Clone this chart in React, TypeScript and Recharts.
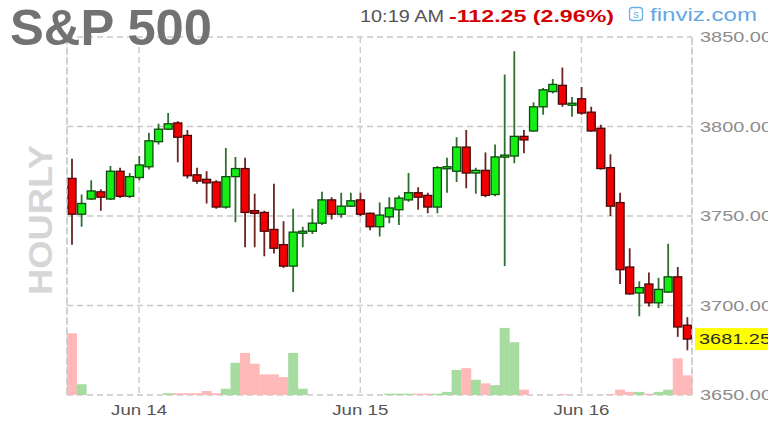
import React from 'react'
import {
  ComposedChart,
  Bar,
  Cell,
  XAxis,
  YAxis,
  CartesianGrid,
  ReferenceLine,
} from 'recharts'

// hourly S&P 500 futures, Jun 13 evening -> Jun 16 10:00
const OPEN = [
  3771, 3751, 3759.5, 3763.5, 3759.5, 3775, 3761, 3771.5, 3777.5, 3791.5,
  3798.5, 3802, 3795, 3773, 3770.5, 3769, 3755, 3772, 3776.5, 3753,
  3752, 3742.5, 3734, 3722, 3740.5, 3741.5, 3746, 3759, 3751, 3755.5,
  3759, 3751.5, 3744, 3749.5, 3753.5, 3759, 3763, 3761.5, 3755, 3776.5,
  3775, 3788.5, 3774, 3775.5, 3762, 3783, 3783.5, 3794.5, 3797.5, 3811,
  3819.5, 3823, 3812, 3815.5, 3808, 3799, 3777, 3757.5, 3721.5, 3707,
  3712, 3701.5, 3707.5, 3716, 3689,
]
const HIGH = [
  3782, 3762, 3770, 3765, 3778, 3777, 3774, 3783.5, 3796.5, 3801.5,
  3807.5, 3803, 3798, 3777, 3775, 3770, 3788, 3783, 3782.5, 3762.5,
  3753, 3768, 3747, 3754, 3744, 3754, 3763.5, 3760.5, 3763, 3763,
  3763, 3752, 3757.5, 3760.5, 3761.5, 3774, 3766, 3763, 3778, 3782.5,
  3794, 3798, 3777, 3785.5, 3790, 3829, 3842, 3798, 3813.5, 3821.5,
  3826.5, 3833, 3816.5, 3822, 3811, 3801, 3784.5, 3763, 3732, 3713.5,
  3718.5, 3715.5, 3734.5, 3721.5, 3693.5,
]
const LOW = [
  3734, 3744, 3759, 3753, 3759, 3760, 3760, 3770, 3776, 3790,
  3798, 3780, 3771, 3768, 3757, 3754, 3754, 3746.5, 3732.5, 3732.5,
  3727.5, 3729, 3721, 3707.5, 3732.5, 3740, 3745, 3748, 3749, 3755,
  3750, 3742, 3738.5, 3746, 3745, 3758, 3753.5, 3751.5, 3751.5, 3763,
  3769, 3765.5, 3762.5, 3760.5, 3761, 3722, 3779.5, 3785, 3797, 3806.5,
  3818.5, 3811, 3805.5, 3806.5, 3797, 3776, 3750, 3712, 3706, 3694,
  3699.5, 3698.5, 3707, 3682.5, 3675,
]
const CLOSE = [
  3751, 3757, 3764, 3760.5, 3775, 3761, 3772, 3778.5, 3792, 3798.5,
  3801.5, 3794, 3772.5, 3769.5, 3768.5, 3755, 3772, 3776.5, 3752, 3751.5,
  3741.5, 3732, 3722, 3741, 3741.5, 3746, 3759, 3751, 3755.5, 3758.5,
  3751, 3744, 3750.5, 3754.5, 3760, 3763, 3760.5, 3755, 3777, 3777.5,
  3788.5, 3774, 3775.5, 3761.5, 3783, 3784, 3794.5, 3792.5, 3811, 3820.5,
  3823.5, 3812.5, 3813, 3807.5, 3797.5, 3776.5, 3755.5, 3720, 3706.5, 3710,
  3701.5, 3709, 3716, 3688, 3681.25,
]
// volume, thousands of contracts
const VOLUME = [
  69, 12, 0, 0, 0, 0, 0, 0, 0, 0,
  2, 2, 2, 2, 4.5, 2, 7, 36, 47, 35,
  23, 23, 20, 47, 7, 0, 0, 0, 0, 0,
  0, 0, 0, 1.5, 1.5, 1.5, 1.5, 1.5, 1.5, 3.5,
  28, 30, 17, 13, 11, 75, 59, 6, 0, 0,
  0, 1, 0, 0, 0, 0, 1, 6, 3.5, 3.5,
  1.5, 3.5, 6, 41, 22,
]
const DAY_TICKS = [7, 30, 53]
const DAY_LABELS = ['Jun 14', 'Jun 15', 'Jun 16']
const PRICE_TICKS = [3650, 3700, 3750, 3800, 3850]
const LAST_PRICE = 3681.25

const data = OPEN.map((o, i) => ({
  i,
  open: o,
  high: HIGH[i],
  low: LOW[i],
  close: CLOSE[i],
  range: [LOW[i], HIGH[i]],
  volume: VOLUME[i],
  up: CLOSE[i] >= o,
}))

const FONT = '"Liberation Sans", Arial, sans-serif'
const GRID = '#c9c9c9'

const Candle = (props: any) => {
  const { x, y, width, height, payload } = props
  if (!payload) return null
  const { open, close, high, low, up } = payload
  const top = Math.min(y, y + height)
  const h = Math.abs(height)
  const py = (p: number) => top + ((high - p) / (high - low || 1)) * h
  const cx = x + width / 2
  const bw = width - 2
  const bTop = py(Math.max(open, close))
  const bBot = py(Math.min(open, close))
  return (
    <g>
      <line x1={cx} x2={cx} y1={top} y2={top + h} stroke={up ? '#2f6f2f' : '#6e2222'} strokeWidth={1.8} />
      <rect
        x={cx - bw / 2}
        y={bTop}
        width={bw}
        height={Math.max(bBot - bTop, 2)}
        fill={up ? '#14ee14' : '#f00000'}
        stroke={up ? '#0d4a0d' : '#4a0606'}
        strokeWidth={1.3}
      />
    </g>
  )
}

const PriceTick = ({ x, y, payload }: any) => (
  <text x={x} y={y} dy={5} fontSize={15} fill="#8c8c8c" fontFamily={FONT} textLength={72} lengthAdjust="spacingAndGlyphs">
    {Number(payload.value).toFixed(2)}
  </text>
)

const DayTick = ({ x, y, payload }: any) => {
  const k = DAY_TICKS.indexOf(payload.value)
  return (
    <text x={x - 28} y={y} dy={20} fontSize={15} fill="#555" fontFamily={FONT} textLength={56} lengthAdjust="spacingAndGlyphs">
      {DAY_LABELS[k] ?? ''}
    </text>
  )
}

const LastTag = (props: any) => {
  const vb = props.viewBox
  if (!vb) return null
  const x = vb.x + vb.width + 3
  return (
    <g>
      <rect x={x} y={vb.y - 11} width={80} height={22} fill="#ffff00" />
      <text x={x + 4} y={vb.y + 5} fontSize={15} fill="#2a2a2a" fontFamily={FONT} textLength={72} lengthAdjust="spacingAndGlyphs">
        {LAST_PRICE.toFixed(2)}
      </text>
    </g>
  )
}

export default function App() {
  return (
    <div style={{ position: 'absolute', left: 0, top: 0, width: 768, height: 432, background: '#fff', overflow: 'hidden' }}>
      <ComposedChart
        width={768}
        height={432}
        data={data}
        margin={{ top: 37, right: 0, bottom: 0, left: 67 }}
        barCategoryGap={0}
        barGap={0}
      >
        <XAxis xAxisId="main" dataKey="i" type="category" ticks={DAY_TICKS} interval={0} height={37}
          axisLine={false} tickLine={false} tickSize={0} tickMargin={0} tick={<DayTick />} />
        <XAxis xAxisId="vol" dataKey="i" type="category" hide />
        <YAxis yAxisId="price" orientation="right" domain={[3650, 3850]} ticks={PRICE_TICKS} width={76}
          axisLine={false} tickLine={false} tickSize={0} tickMargin={8} tick={<PriceTick />} allowDataOverflow />
        <YAxis yAxisId="vol" domain={[0, 400]} hide />
        <CartesianGrid xAxisId="main" yAxisId="price" stroke={GRID} strokeDasharray="6 4" strokeWidth={1.4} />
        <ReferenceLine xAxisId="main" yAxisId="price" x={0} position="start" stroke={GRID} strokeDasharray="6 4" strokeWidth={1.4} />
        <ReferenceLine xAxisId="main" yAxisId="price" x={64} position="end" stroke={GRID} strokeDasharray="6 4" strokeWidth={1.4} />
        <Bar xAxisId="vol" yAxisId="vol" dataKey="volume" isAnimationActive={false}>
          {data.map((d) => (
            <Cell key={d.i} fill={d.up ? '#a6dca0' : '#ffb9b9'} />
          ))}
        </Bar>
        <Bar xAxisId="main" yAxisId="price" dataKey="range" shape={<Candle />} isAnimationActive={false} />
        <ReferenceLine xAxisId="main" yAxisId="price" y={LAST_PRICE} stroke="none" label={<LastTag />} />
      </ComposedChart>
      <svg width={768} height={432} style={{ position: 'absolute', left: 0, top: 0, pointerEvents: 'none' }}>
        <text x={10} y={45} fontSize={50} fontWeight="bold" fill="#727272" fontFamily={FONT} textLength={202} lengthAdjust="spacingAndGlyphs">
          S&amp;P 500
        </text>
        <text transform="translate(52 220) rotate(-90)" textAnchor="middle" fontSize={34} fontWeight="bold" fill="#d6d6d6"
          fontFamily={FONT} textLength={150} lengthAdjust="spacingAndGlyphs">
          HOURLY
        </text>
        <text x={360} y={22} fontSize={17} fill="#555" fontFamily={FONT} textLength={84} lengthAdjust="spacingAndGlyphs">
          10:19 AM
        </text>
        <text x={449} y={22} fontSize={17} fontWeight="bold" fill="#d40000" fontFamily={FONT} textLength={165} lengthAdjust="spacingAndGlyphs">
          -112.25 (2.96%)
        </text>
        <rect x={629.5} y={7.5} width={13} height={13} rx={3} fill="none" stroke="#6aaee6" strokeWidth={1.3} />
        <text x={636} y={18} textAnchor="middle" fontSize={11} fill="#6aaee6" fontFamily={FONT}>s</text>
        <text x={650} y={21} fontSize={18} fill="#64a8e2" fontFamily={FONT} textLength={107} lengthAdjust="spacingAndGlyphs">
          finviz.com
        </text>
      </svg>
    </div>
  )
}
